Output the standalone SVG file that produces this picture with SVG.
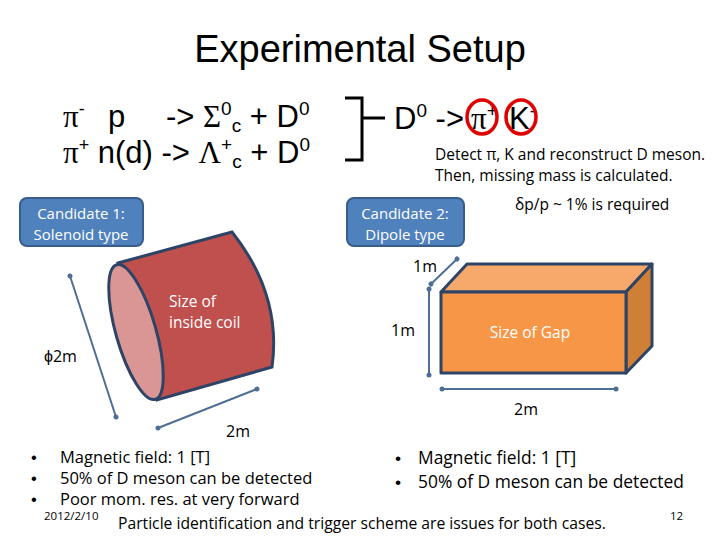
<svg xmlns="http://www.w3.org/2000/svg" width="720" height="540" viewBox="0 0 720 540">
<style>
text{font-family:"Liberation Sans",Arial,sans-serif;fill:#000}
.c{font-family:"Open Sans","Liberation Sans",sans-serif}
.eq{font-size:31px}
.g{font-family:"Liberation Serif","Times New Roman",serif}
.w{fill:#fff}
.cand{fill:#4F81BD;stroke:#385D8A;stroke-width:2}
.dim{stroke:#4F6E96;stroke-width:2;fill:none;marker-start:url(#a);marker-end:url(#a)}
</style>
<defs><marker id="a" viewBox="0 0 6 6" refX="3" refY="3" markerWidth="3" markerHeight="3" orient="auto"><circle cx="3" cy="3" r="2.5" fill="#4F6E96"/></marker></defs>
<rect width="720" height="540" fill="#fff"/>
<text x="360" y="62" font-size="38" text-anchor="middle">Experimental Setup</text>
<g id="eqs" class="eq">
<text x="63" y="127"><tspan class="g">π</tspan><tspan font-size="18" dy="-12">-</tspan></text>
<text x="108" y="127">p</text>
<text x="166" y="127">-&gt; <tspan class="g">Σ</tspan><tspan font-size="19" dy="-12">0</tspan><tspan font-size="19" dy="17">c</tspan><tspan dy="-5"> + D</tspan><tspan font-size="19" dy="-12">0</tspan></text>
<text x="63" y="163"><tspan class="g">π</tspan><tspan font-size="18" dy="-12">+</tspan><tspan dy="12"> n(d) -&gt; </tspan><tspan class="g">Λ</tspan><tspan font-size="19" dy="-12">+</tspan><tspan font-size="19" dy="17">c</tspan><tspan dy="-5"> + D</tspan><tspan font-size="19" dy="-12">0</tspan></text>
<path d="M345 98 H362 V160 H345 M362 118 H385" stroke="#000" stroke-width="3" fill="none"/>
<text x="394" y="129">D<tspan font-size="19" dy="-12">0</tspan><tspan dy="12"> -&gt;</tspan></text>
<text x="471" y="129"><tspan class="g">π</tspan><tspan font-size="19" dy="-12">+</tspan></text>
<text x="509" y="129">K<tspan font-size="19" dy="-12">-</tspan></text>
<ellipse cx="482" cy="117" rx="15" ry="17" fill="none" stroke="#E00000" stroke-width="3.5"/>
<ellipse cx="521" cy="117" rx="15" ry="17" fill="none" stroke="#E00000" stroke-width="3.5"/>
</g>
<text class="c" x="435" y="160" font-size="15.5">Detect π, K and reconstruct D meson.</text>
<text class="c" x="435" y="181" font-size="15.5">Then, missing mass is calculated.</text>
<text class="c" x="515" y="210" font-size="15.5">δp/p ~ 1% is required</text>
<g id="cand1"><rect class="cand" x="20" y="198" width="123" height="48" rx="7"/><text class="c w" x="81" y="219" font-size="15" text-anchor="middle">Candidate 1:</text><text class="c w" x="81" y="240" font-size="15" text-anchor="middle">Solenoid type</text></g>
<g id="cand2"><rect class="cand" x="347" y="198" width="117" height="48" rx="7"/><text class="c w" x="405" y="219" font-size="15" text-anchor="middle">Candidate 2:</text><text class="c w" x="405" y="240" font-size="15" text-anchor="middle">Dipole type</text></g>
<g id="solenoid" stroke="#2E4466" stroke-width="3">
<path d="M118 263 L232 232 Q282 295 272 367 L157 400 Z" fill="#C0504D"/>
<ellipse cx="136" cy="332" rx="20" ry="70" transform="rotate(-16 136 332)" fill="#D99694"/>
<text class="c w" x="169" y="307" font-size="15.5" stroke="none">Size of</text>
<text class="c w" x="169" y="328" font-size="15.5" stroke="none">inside coil</text>
</g>
<g id="box" stroke="#2E4466" stroke-width="3" stroke-linejoin="round">
<path d="M441 292 L467 264 H652 L626 292 Z" fill="#F6A96B"/>
<path d="M626 292 L652 264 V346 L626 373 Z" fill="#D07F36"/>
<rect x="441" y="292" width="185" height="81" fill="#F79646"/>
<text class="c w" x="530" y="338" font-size="15.5" text-anchor="middle" stroke="none">Size of Gap</text>
</g>
<g id="dims">
<path class="dim" d="M70 276 L116 417"/>
<path class="dim" d="M158 428 L257 389"/>
<path class="dim" d="M429 289 V375"/>
<path class="dim" d="M431 284 L457 259"/>
<path class="dim" d="M442 389 H616"/>
</g>
<text class="c" x="44" y="362" font-size="16">ϕ2m</text>
<text class="c" x="238" y="437" font-size="16" text-anchor="middle">2m</text>
<text class="c" x="425" y="272" font-size="16" text-anchor="middle">1m</text>
<text class="c" x="403" y="336" font-size="16" text-anchor="middle">1m</text>
<text class="c" x="526" y="415" font-size="16" text-anchor="middle">2m</text>
<g font-size="16.5">
<text x="31" y="463">•</text><text x="60" y="463" class="c">Magnetic field: 1 [T]</text>
<text x="31" y="484">•</text><text x="60" y="484" class="c">50% of D meson can be detected</text>
<text x="31" y="505">•</text><text x="60" y="505" class="c">Poor mom. res. at very forward</text>
</g>
<g font-size="17.4">
<text x="395" y="464">•</text><text x="418" y="464" class="c">Magnetic field: 1 [T]</text>
<text x="395" y="488">•</text><text x="418" y="488" class="c">50% of D meson can be detected</text>
</g>
<text class="c" x="44" y="520" font-size="11.5" fill="#555">2012/2/10</text>
<text class="c" x="118" y="529" font-size="15.7">Particle identification and trigger scheme are issues for both cases.</text>
<text class="c" x="670" y="520" font-size="11.5" fill="#555">12</text>
</svg>
